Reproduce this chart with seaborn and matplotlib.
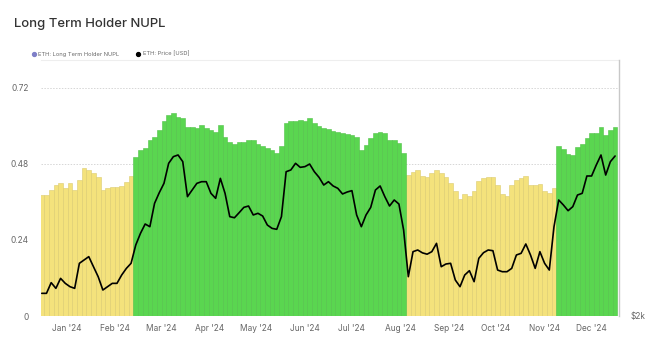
import numpy as np
import pandas as pd
import matplotlib
matplotlib.use("Agg")
import matplotlib.pyplot as plt
import seaborn as sns
from matplotlib.lines import Line2D
from matplotlib.colors import to_rgb

# ---------------- data (one sample every 3 days from 2023-12-16) ----------------
start_date = "2023-12-16"
step_days = 3

lth_nupl = [
    0.382, 0.382, 0.398, 0.414, 0.419, 0.403, 0.419, 0.398, 0.429, 0.466,
    0.461, 0.450, 0.440, 0.398, 0.403, 0.406, 0.408, 0.410, 0.424, 0.442,
    0.503, 0.524, 0.529, 0.556, 0.566, 0.587, 0.614, 0.635, 0.640, 0.629,
    0.624, 0.598, 0.598, 0.593, 0.603, 0.593, 0.587, 0.582, 0.603, 0.566,
    0.550, 0.543, 0.550, 0.550, 0.556, 0.556, 0.543, 0.537, 0.529, 0.524,
    0.516, 0.535, 0.608, 0.617, 0.617, 0.619, 0.617, 0.624, 0.610, 0.600,
    0.593, 0.589, 0.585, 0.582, 0.577, 0.575, 0.571, 0.564, 0.524, 0.540,
    0.561, 0.577, 0.582, 0.579, 0.556, 0.554, 0.547, 0.514, 0.445, 0.456,
    0.461, 0.441, 0.440, 0.450, 0.461, 0.450, 0.438, 0.419, 0.393, 0.368,
    0.385, 0.379, 0.393, 0.427, 0.435, 0.440, 0.438, 0.414, 0.385, 0.379,
    0.414, 0.429, 0.435, 0.442, 0.414, 0.413, 0.417, 0.396, 0.387, 0.403,
    0.535, 0.526, 0.511, 0.508, 0.533, 0.543, 0.561, 0.579, 0.577, 0.598,
    0.571, 0.587, 0.596,
]

eth_price = [
    2286, 2286, 2421, 2349, 2475, 2412, 2370, 2349, 2665, 2707,
    2749, 2622, 2496, 2328, 2370, 2412, 2412, 2517, 2601, 2665,
    2896, 3043, 3161, 3127, 3422, 3556, 3674, 3927, 4011, 4032,
    3948, 3506, 3590, 3674, 3695, 3695, 3548, 3485, 3737, 3548,
    3254, 3240, 3304, 3371, 3388, 3275, 3296, 3262, 3148, 3106,
    3094, 3254, 3821, 3843, 3927, 3876, 3885, 3918, 3821, 3750,
    3653, 3695, 3641, 3611, 3540, 3565, 3582, 3275, 3127, 3275,
    3371, 3590, 3641, 3506, 3388, 3464, 3413, 3085, 2496, 2812,
    2833, 2797, 2780, 2812, 2917, 2622, 2656, 2665, 2454, 2370,
    2517, 2572, 2433, 2728, 2799, 2833, 2824, 2580, 2559, 2559,
    2601, 2770, 2791, 2909, 2770, 2601, 2812, 2665, 2580, 3127,
    3464, 3401, 3329, 3380, 3527, 3548, 3767, 3767, 3906, 4032,
    3779, 3948, 4019,
]

month_starts = ["2024-01-01", "2024-02-01", "2024-03-01", "2024-04-01",
                "2024-05-01", "2024-06-01", "2024-07-01", "2024-08-01",
                "2024-09-01", "2024-10-01", "2024-11-01", "2024-12-01"]
month_labels = ["Jan '24", "Feb '24", "Mar '24", "Apr '24", "May '24", "Jun '24",
                "Jul '24", "Aug '24", "Sep '24", "Oct '24", "Nov '24", "Dec '24"]

nupl_ticks = [0, 0.24, 0.48, 0.72]
nupl_tick_labels = ["0", "0.24", "0.48", "0.72"]
price_ticks = [2000]
price_tick_labels = [r"\$2k"]

# ---------------- frame ----------------
days = np.arange(len(lth_nupl)) * step_days
df = pd.DataFrame({"day": days, "nupl": lth_nupl, "price": eth_price})
df["zone"] = np.where(df["nupl"] >= 0.5, "belief", "optimism")

start = pd.Timestamp(start_date)
tick_pos = [(pd.Timestamp(m) - start).days for m in month_starts]

YELLOW = "#f4e27c"
GREEN = "#5ad650"

sns.set_style("white")
plt.rcParams["font.family"] = ["Inter", "DejaVu Sans"]

fig = plt.figure(figsize=(6.6, 3.46), dpi=100)
W, H = 660, 346
ax = fig.add_axes([41 / W, 30 / H, 578 / W, 256 / H])

sns.barplot(data=df, x="day", y="nupl", hue="zone",
            palette={"optimism": YELLOW, "belief": GREEN}, saturation=1,
            native_scale=True, width=1.0, dodge=False, legend=False,
            linewidth=0.4, ax=ax, zorder=2)
for p in ax.patches:
    fc = np.array(to_rgb(p.get_facecolor()[:3]))
    p.set_edgecolor(tuple(fc * 0.9))
    p.set_linewidth(0.4)

ax.set_xlim(-0.5, 368.5)
ax.set_ylim(0, 0.808)
ax.set_yticks(nupl_ticks)
ax.set_yticklabels(nupl_tick_labels)
ax.set_xticks(tick_pos)
ax.set_xticklabels(month_labels)
ax.set_xlabel("")
ax.set_ylabel("")
ax.set_axisbelow(True)
ax.yaxis.grid(True, linestyle=(0, (1.5, 1.5)), color="#d6d6d6", linewidth=0.7)
ax.xaxis.grid(False)
ax.tick_params(axis="both", length=0, labelsize=6, labelcolor="#666666")
ax.tick_params(axis="y", pad=9)
ax.tick_params(axis="x", pad=6)
for s in ["left", "bottom", "right"]:
    ax.spines[s].set_visible(False)
ax.spines["top"].set_color("#eeeeee")
ax.spines["top"].set_linewidth(0.8)

ax2 = ax.twinx()
sns.lineplot(data=df, x="day", y="price", color="black", linewidth=1.2, ax=ax2)
ax2.set_ylim(2000, 2000 + 256 * 12.62)
ax2.set_yticks(price_ticks)
ax2.set_yticklabels(price_tick_labels)
ax2.set_ylabel("")
ax2.set_xlabel("")
ax2.tick_params(axis="y", length=0, labelsize=6, labelcolor="#666666", pad=8)
for s in ["left", "bottom", "top"]:
    ax2.spines[s].set_visible(False)
ax2.spines["right"].set_color("#c8c8c8")
ax2.spines["right"].set_linewidth(1.0)
ax2.set_xlim(-0.5, 368.5)

fig.text(14 / W, 1 - 24 / H, "Long Term Holder NUPL", fontsize=9.4,
         fontweight="medium", color="#333333", va="center", ha="left")

handles = [Line2D([], [], marker="o", linestyle="", color="#7f80c8", markersize=2.8),
           Line2D([], [], marker="o", linestyle="", color="black", markersize=2.8)]
fig.legend(handles, ["ETH: Long Term Holder NUPL", "ETH: Price [USD]"],
           loc="center left", bbox_to_anchor=(27 / W, 1 - 54 / H), frameon=False,
           fontsize=4.1, ncol=2, handlelength=0.6, handletextpad=0.5,
           columnspacing=3.0, labelcolor="#666666")

fig.savefig("out.png", dpi=100)
